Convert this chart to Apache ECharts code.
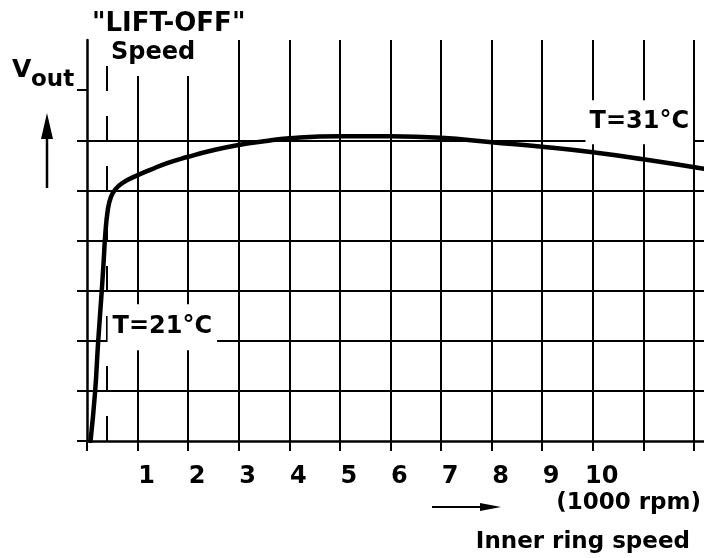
<!DOCTYPE html>
<html>
<head>
<meta charset="utf-8">
<script src="https://cdn.jsdelivr.net/npm/echarts@6/dist/echarts.min.js"></script>
<style>
  html, body { margin: 0; padding: 0; background: #fff; }
  #chart { width: 704px; height: 558px; }
</style>
</head>
<body>
<div id="chart"></div>
<script>
// Output voltage against inner ring speed (x in 1000 rpm, y in grid divisions)
const speedK = [0.07, 0.16, 0.22, 0.29, 0.33, 0.36, 0.41, 0.47, 0.56, 0.72, 0.95, 1.25, 1.6, 2.0, 2.45, 2.97, 3.5, 4.0, 5.0, 6.0, 7.0, 8.0, 9.0, 10.0, 11.0, 12.2];
const vout   = [0.0,  0.98, 1.97, 2.97, 3.6,  4.1,  4.6,  4.86, 5.02, 5.16, 5.28, 5.41, 5.55, 5.67, 5.79, 5.9,  5.98, 6.04, 6.08, 6.08, 6.05, 5.96, 5.87, 5.76, 5.62, 5.43];

const xTickValues  = [0, 1, 2, 3, 4, 5, 6, 7, 8, 9, 10, 11, 12];
const xLabelValues = [1, 2, 3, 4, 5, 6, 7, 8, 9, 10];
const yTickValues  = [0, 1, 2, 3, 4, 5, 6, 7];

// "lift-off" speed marker and its extent
const liftOffSpeed = 0.4;
const liftOffTop = 7.5;

const tempLow  = 'T=21°C';
const tempHigh = 'T=31°C';

const FONT = '"DejaVu Sans", sans-serif';
const INK = '#000';

const chart = echarts.init(document.getElementById('chart'), null, { renderer: 'canvas' });

const curve = speedK.map((x, i) => [x, vout[i]]);

const tempLabel = {
  show: true,
  position: 'inside',
  color: INK,
  fontFamily: FONT,
  fontSize: 24,
  fontWeight: 'bold',
  backgroundColor: '#fff',
  padding: [11, 5, 11, 5]
};

chart.setOption({
  animation: false,
  backgroundColor: '#fff',
  grid: { left: 87, right: 0, top: 40, bottom: 117 },
  xAxis: {
    type: 'value',
    min: 0,
    max: 12.2,
    interval: 1,
    axisLine: { onZero: false, lineStyle: { color: INK, width: 2.5 } },
    axisTick: { show: true, inside: false, length: 10, customValues: xTickValues, lineStyle: { color: INK, width: 2 } },
    axisLabel: {
      customValues: xLabelValues,
      formatter: v => (v >= 1 && v <= 10 ? String(v) : ''),
      margin: 24,
      color: INK,
      fontFamily: FONT,
      fontSize: 24,
      fontWeight: 'bold',
      padding: [0, 0, 0, 18]
    },
    splitLine: { show: true, showMinLine: false, showMaxLine: true, lineStyle: { color: INK, width: 2 } }
  },
  yAxis: {
    type: 'value',
    min: 0,
    max: 8,
    interval: 1,
    axisLine: { onZero: false, lineStyle: { color: INK, width: 2.5 } },
    axisTick: { show: true, inside: false, length: 10, customValues: yTickValues, lineStyle: { color: INK, width: 2 } },
    axisLabel: { show: false },
    splitLine: { show: true, showMinLine: false, showMaxLine: false, lineStyle: { color: INK, width: 2 } }
  },
  series: [{
    type: 'line',
    data: curve,
    smooth: 0.5,
    symbol: 'none',
    silent: true,
    lineStyle: { color: INK, width: 4.5, join: 'round', cap: 'round' },
    markLine: {
      silent: true,
      symbol: 'none',
      label: { show: false },
      lineStyle: { color: INK, width: 2, type: [25, 25] },
      data: [[{ coord: [liftOffSpeed, 0] }, { coord: [liftOffSpeed, liftOffTop] }]]
    },
    markPoint: {
      silent: true,
      symbol: 'circle',
      symbolSize: 0,
      data: [
        { coord: [1.49, 2.27], label: Object.assign({ formatter: tempLow }, tempLabel) },
        { coord: [10.92, 6.36], label: Object.assign({ formatter: tempHigh }, tempLabel, { padding: [10, 4, 10, 4] }) }
      ]
    }
  }],
  graphic: [
    // clears the grid behind the lift-off caption
    { type: 'rect', z: 50, shape: { x: 120, y: 36, width: 112, height: 40 }, style: { fill: '#fff' } },
    { type: 'text', z: 60, x: 92, y: 24, style: { text: '"LIFT-OFF"', font: 'bold 26px ' + FONT, fill: INK, verticalAlign: 'middle' } },
    { type: 'text', z: 60, x: 111, y: 53, style: { text: 'Speed', font: 'bold 24px ' + FONT, fill: INK, verticalAlign: 'middle' } },
    // y axis caption
    { type: 'text', z: 60, x: 12, y: 70, style: { text: 'V', font: 'bold 25px ' + FONT, fill: INK, verticalAlign: 'middle' } },
    { type: 'text', z: 60, x: 31, y: 80, style: { text: 'out', font: 'bold 23px ' + FONT, fill: INK, verticalAlign: 'middle' } },
    { type: 'line', z: 60, shape: { x1: 47, y1: 188, x2: 47, y2: 132 }, style: { stroke: INK, lineWidth: 2.5 } },
    { type: 'polygon', z: 60, shape: { points: [[47, 113], [41, 139], [53, 139]] }, style: { fill: INK } },
    // x axis caption
    { type: 'line', z: 60, shape: { x1: 432, y1: 507, x2: 484, y2: 507 }, style: { stroke: INK, lineWidth: 2 } },
    { type: 'polygon', z: 60, shape: { points: [[501, 507], [480, 503], [480, 511]] }, style: { fill: INK } },
    { type: 'text', z: 60, x: 701, y: 503, style: { text: '(1000 rpm)', font: 'bold 23px ' + FONT, fill: INK, align: 'right', verticalAlign: 'middle' } },
    { type: 'text', z: 60, x: 690, y: 542, style: { text: 'Inner ring speed', font: 'bold 23px ' + FONT, fill: INK, align: 'right', verticalAlign: 'middle' } }
  ]
});
</script>
</body>
</html>
